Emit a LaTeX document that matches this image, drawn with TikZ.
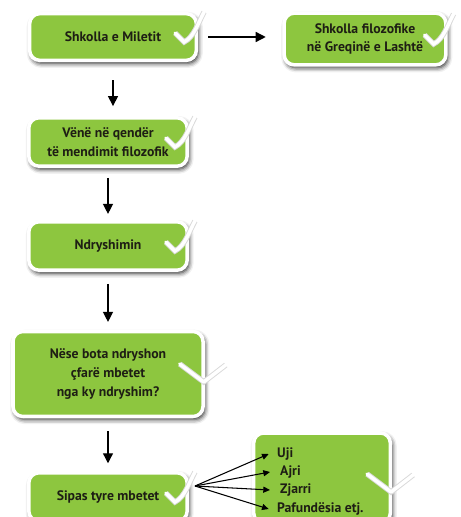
\documentclass[tikz,border=0pt]{standalone}
\usepackage{fontspec}
\setmainfont{PT Sans}
\usetikzlibrary{shadows.blur,arrows.meta}
\definecolor{boxgreen}{RGB}{141,198,63}
\definecolor{inkdark}{RGB}{30,30,20}
\newcommand{\swoosh}[1]{\draw[swoosh, shift={(#1.east)}] (-23,-4) .. controls (-19,1) .. (-14,5) .. controls (-4,0) and (0,-14) .. (6,-25);}
\newcommand{\vmark}[2]{\draw[swoosh, line join=round, shift={(#1.east)}] (-25,#2-18) -- (-1,#2) -- (21,#2-17);}

\begin{document}
\begin{tikzpicture}[x=0.03cm, y=-0.03cm,
  box/.style={rounded corners=0.3cm, fill=boxgreen, draw=white, line width=3pt, blur shadow={shadow xshift=1.5pt, shadow yshift=-2.5pt, shadow blur radius=4pt, shadow opacity=90}, align=center, text=inkdark, font=\fontsize{11.7}{16}\selectfont\bfseries, inner sep=2pt},
  swoosh/.style={draw=white, line width=3pt, line cap=round, preaction={draw=black!15, line width=4.6pt}},
  flow/.style={-{Triangle[length=3mm,width=3mm]}, line width=1.1pt},
  fanout/.style={-{Triangle[length=2mm,width=1.8mm]}, line width=0.9pt},
  item/.style={anchor=west, text=inkdark, font=\fontsize{11.7}{14}\selectfont\bfseries, inner sep=0pt}]
\useasboundingbox (0,0) rectangle (461,517);
\node[box, minimum width=5cm, minimum height=1.4cm] (miletit) at (113,37) {Shkolla e Miletit};
\node[box, minimum width=4.85cm, minimum height=1.55cm] (greqia) at (365,39) {Shkolla filozofike\\në Greqinë e Lashtë};
\node[box, minimum width=4.75cm, minimum height=1.45cm] (qender) at (108,142) {Vënë në qendër\\të mendimit filozofik};
\node[box, minimum width=4.75cm, minimum height=1.45cm] (ndryshimin) at (108,246) {Ndryshimin};
\node[box, minimum width=5.7cm, minimum height=2.55cm] (bota) at (108,374) {Nëse bota ndryshon\\çfarë mbetet\\nga ky ndryshim?};
\node[box, minimum width=4.75cm, minimum height=1.45cm] (mbetet) at (108,497) {Sipas tyre mbetet};
\node[box, minimum width=4.1cm, minimum height=2.7cm] (lista) at (322,478) {};
\swoosh{miletit}
\swoosh{greqia}
\swoosh{qender}
\swoosh{ndryshimin}
\swoosh{mbetet}
\vmark{bota}{8}
\vmark{lista}{14}
\node[item] (uji) at (277,454) {Uji};
\node[item] (ajri) at (280,472) {Ajri};
\node[item] (zjarri) at (280,490) {Zjarri};
\node[item] (pafundesia) at (277,509) {Pafundësia etj.};
\coordinate (fan) at (195,486);
\draw[flow] ([xshift=0.3cm]miletit.east) -- ([xshift=-0.5cm]greqia.west |- miletit.east);
\draw[flow] (miletit.south) ++(0,18) -- ++(0,26);
\draw[flow] (qender.south) ++(0,10) -- ++(0,36);
\draw[flow] (ndryshimin.south) ++(0,12) -- ++(0,38);
\draw[flow] (bota.south) ++(0,13) -- ++(0,32);
\draw[fanout] (fan) -- ([xshift=-0.25cm]uji.west);
\draw[fanout] (fan) -- ([xshift=-0.3cm]ajri.west);
\draw[fanout] (fan) -- ([xshift=-0.3cm]zjarri.west);
\draw[fanout] (fan) -- ([xshift=-0.25cm]pafundesia.west);
\end{tikzpicture}
\end{document}
